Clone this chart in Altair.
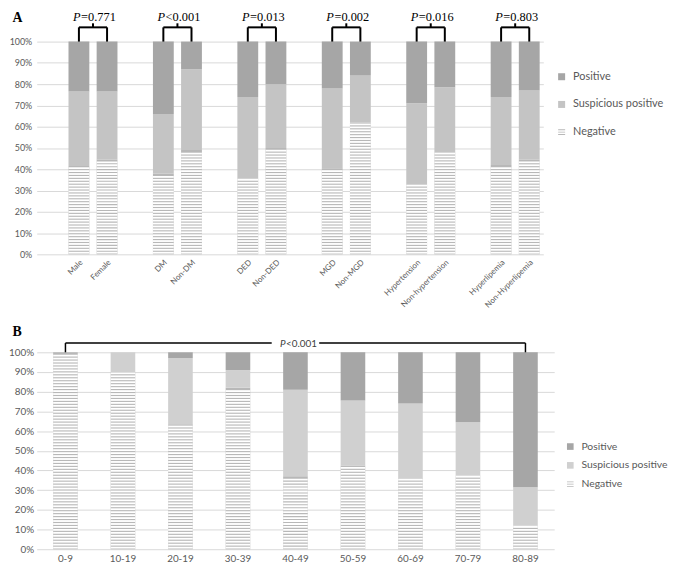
import altair as alt
import pandas as pd

# ---------------- data ----------------
a_cats = ["Male", "Female", "DM", "Non-DM", "DED", "Non-DED", "MGD", "Non-MGD",
          "Hypertension", "Non-hypertension", "Hyperlipemia", "Non-Hyperlipemia"]
a_neg = [41.5, 44.5, 38, 49, 35.5, 50, 40.5, 62, 33, 48, 42, 44.5]
a_susp = [35, 32, 28, 38, 38.5, 30, 37.5, 22, 38, 30.5, 32, 32.5]
a_pos = [23.5, 23.5, 34, 13, 26, 20, 22, 16, 29, 21.5, 26, 23]
a_pvals = ["=0.771", "<0.001", "=0.013", "=0.002", "=0.016", "=0.803"]

b_cats = ["0-9", "10-19", "20-19", "30-39", "40-49", "50-59", "60-69", "70-79", "80-89"]
b_neg = [100, 90, 63.5, 82, 37, 42.5, 36, 37.5, 12]
b_susp = [0, 10, 33.5, 9, 44, 33, 38, 27, 19.5]
b_pos = [0, 0, 3, 9, 19, 24.5, 26, 35.5, 68.5]
b_pval = "<0.001"

statuses = ["Positive", "Suspicious positive", "Negative"]
y_ticks = [0, 10, 20, 30, 40, 50, 60, 70, 80, 90, 100]

# x slots for panel A (blank slots between pairs, like the original spreadsheet chart)
a_slots = [" "]
for i in range(0, len(a_cats), 2):
    if i > 0:
        a_slots.append(" " * (i // 2 + 1))
    a_slots += [a_cats[i], a_cats[i + 1]]


def long_df(cats, neg, susp, pos):
    rows = []
    for c, n, s, p in zip(cats, neg, susp, pos):
        rows.append({"cat": c, "status": "Negative", "value": n, "ord": 0})
        rows.append({"cat": c, "status": "Suspicious positive", "value": s, "ord": 1})
        rows.append({"cat": c, "status": "Positive", "value": p, "ord": 2})
    return pd.DataFrame(rows)


STRIPES = "M-1,-0.8H1V-0.55H-1Z M-1,-0.125H1V0.125H-1Z M-1,0.55H1V0.8H-1Z"
FONT = "Lato"
GREY = "#595959"


def panel(cats, neg, susp, pos, domain, xscale, colors, yaxis_size, ylabpad, xaxis,
          legend, stripe_step, letter, letter_y):
    long = long_df(cats, neg, susp, pos)
    wide = pd.DataFrame({"cat": cats, "neg": neg})
    xs = alt.Scale(domain=domain, **xscale)
    ys = alt.Scale(domain=[0, 100])
    yaxis = alt.Axis(values=y_ticks, labelExpr="datum.value + '%'", title=letter,
                     domain=False, ticks=False, grid=True, gridColor="#d9d9d9",
                     labelFont=FONT, labelFontSize=yaxis_size, labelColor=GREY,
                     labelPadding=ylabpad, labelOverlap=False, tickCount=11,
                     titleAngle=0, titleAlign="left", titleBaseline="top",
                     titleX=-25, titleY=letter_y, titleFont="Liberation Serif",
                     titleFontSize=14, titleFontWeight="bold", titleColor="black")
    cscale = alt.Scale(domain=statuses, range=colors)

    def Y(f):
        return alt.Y(f, scale=ys, axis=yaxis)

    bars = alt.Chart(long).mark_bar().encode(
        x=alt.X("cat:N", scale=xs, axis=xaxis, sort=domain),
        y=alt.Y("value:Q", stack="zero", scale=ys, axis=yaxis),
        color=alt.Color("status:N", scale=cscale, legend=legend),
        order=alt.Order("ord:Q"),
    )
    frac = 0.62
    stripes = alt.Chart(wide).transform_calculate(
        s=f"sequence(0.35, datum.neg - {stripe_step * frac}, {stripe_step})"
    ).transform_flatten(["s"]).transform_calculate(
        s2=f"datum.s + {stripe_step * frac}"
    ).mark_bar(color="white").encode(
        x=alt.X("cat:N", scale=xs, axis=xaxis),
        y=Y("s:Q"),
        y2="s2:Q",
    )
    legend_pts = alt.Chart(long).transform_filter("false").mark_point(
        filled=True, opacity=1, size=50
    ).encode(
        x=alt.X("cat:N", scale=xs, axis=xaxis),
        y=Y("value:Q"),
        color=alt.Color("status:N", scale=cscale, legend=legend),
        shape=alt.Shape("status:N", scale=alt.Scale(domain=statuses,
                        range=["square", "square", STRIPES]), legend=legend),
    )
    return [bars, stripes, legend_pts], xs, Y


# ---------------- panel A ----------------
A_W, A_H = 512, 215
a_legend = alt.Legend(title=None, orient="none", legendX=525, legendY=30,
                      labelFont=FONT, labelFontSize=11, labelColor=GREY,
                      rowPadding=16, labelOffset=6, symbolSize=50)
a_xaxis = alt.Axis(title=None, labelAngle=-45, domain=False, ticks=False,
                   labelFont=FONT, labelFontSize=8, labelColor=GREY, labelPadding=4)
a_layers, a_xs, aY = panel(a_cats, a_neg, a_susp, a_pos, a_slots,
                           dict(paddingInner=0.26, paddingOuter=0.13),
                           ["#a6a6a6", "#c4c4c4", "#b8b8b8"], 9, 5, a_xaxis, a_legend,
                           1.37, "A", -31)

a_pairs = pd.DataFrame({
    "left": a_cats[0::2], "right": a_cats[1::2], "pv": a_pvals,
    "lo": 100, "hi": 106.7, "tk": 108.6, "ty": 114.4,
})
br = alt.Chart(a_pairs)
a_step = A_W / len(a_slots)


def aX(f, **kw):
    return alt.X(f, scale=a_xs, axis=a_xaxis, **kw)


a_br = [
    br.mark_rule(color="black", strokeWidth=2).encode(
        x=aX("left:N"), y=aY("lo:Q"), y2="hi:Q"),
    br.mark_rule(color="black", strokeWidth=2).encode(
        x=aX("right:N"), y=aY("lo:Q"), y2="hi:Q"),
    br.mark_rule(color="black", strokeWidth=2).encode(
        x=aX("left:N", bandPosition=0.5),
        x2=alt.X2("right:N", bandPosition=0.5), y=aY("hi:Q")),
    br.mark_rule(color="black", strokeWidth=2, xOffset=a_step / 2).encode(
        x=aX("left:N"), y=aY("hi:Q"), y2="tk:Q"),
    br.mark_text(align="right", baseline="top", font="Liberation Serif",
                 fontStyle="italic", fontSize=12.5, color="black",
                 dx=a_step / 2 - 12.5).encode(
        x=aX("left:N"), y=aY("ty:Q"), text=alt.value("P")),
    br.mark_text(align="left", baseline="top", font="Liberation Serif",
                 fontSize=12.5, color="black", dx=a_step / 2 - 12).encode(
        x=aX("left:N"), y=aY("ty:Q"), text="pv:N"),
]

chart_a = alt.layer(*(a_layers[:2] + a_br + a_layers[2:])).properties(
    width=A_W, height=A_H)

# ---------------- panel B ----------------
b_legend = alt.Legend(title=None, orient="none", legendX=534, legendY=90,
                      labelFont=FONT, labelFontSize=10.5, labelColor=GREY,
                      rowPadding=8, labelOffset=6, symbolSize=45)
b_xaxis = alt.Axis(title=None, labelAngle=0, domain=False, ticks=False,
                   labelFont=FONT, labelFontSize=10, labelColor=GREY, labelPadding=4)
b_layers, b_xs, bY = panel(b_cats, b_neg, b_susp, b_pos, b_cats,
                           dict(paddingInner=0.572, paddingOuter=0.286),
                           ["#a6a6a6", "#d0d0d0", "#b8b8b8"], 10, 3, b_xaxis, b_legend,
                           1.5, "B", -28)


def bX(f, **kw):
    return alt.X(f, scale=b_xs, axis=b_xaxis, **kw)


b_br_df = pd.DataFrame({"first": [b_cats[0]], "mid": [b_cats[4]], "last": [b_cats[-1]],
                        "pv": [b_pval], "lo": [100], "hi": [104.7]})
bb = alt.Chart(b_br_df)
b_br = [
    bb.mark_rule(color="black", strokeWidth=1.5).encode(
        x=bX("first:N"), y=bY("lo:Q"), y2="hi:Q"),
    bb.mark_rule(color="black", strokeWidth=1.5).encode(
        x=bX("last:N"), y=bY("lo:Q"), y2="hi:Q"),
    bb.mark_rule(color="black", strokeWidth=1.5, x2Offset=-24).encode(
        x=bX("first:N", bandPosition=0.5),
        x2=alt.X2("mid:N", bandPosition=0.5), y=bY("hi:Q")),
    bb.mark_rule(color="black", strokeWidth=1.5, xOffset=24).encode(
        x=bX("mid:N", bandPosition=0.5),
        x2=alt.X2("last:N", bandPosition=0.5), y=bY("hi:Q")),
    bb.mark_text(align="right", baseline="middle", font=FONT, fontStyle="italic",
                 fontSize=10, color="#404040", dx=-10, dy=1).encode(
        x=bX("mid:N"), y=bY("hi:Q"), text=alt.value("P")),
    bb.mark_text(align="left", baseline="middle", font=FONT, fontSize=10,
                 color="#404040", dx=-9.5, dy=1).encode(
        x=bX("mid:N"), y=bY("hi:Q"), text="pv:N"),
]

chart_b = alt.layer(*(b_layers[:2] + b_br + b_layers[2:])).properties(
    width=523, height=199)

chart = alt.vconcat(chart_a, chart_b, spacing=15).resolve_scale(
    x="independent", y="independent", color="independent", shape="independent"
).resolve_legend(color="independent", shape="independent").properties(
    padding={"left": 0, "top": 0, "right": 0, "bottom": 0}
).configure_view(stroke=None)

chart.save("out.html", embed_options={"renderer": "svg", "actions": False})
